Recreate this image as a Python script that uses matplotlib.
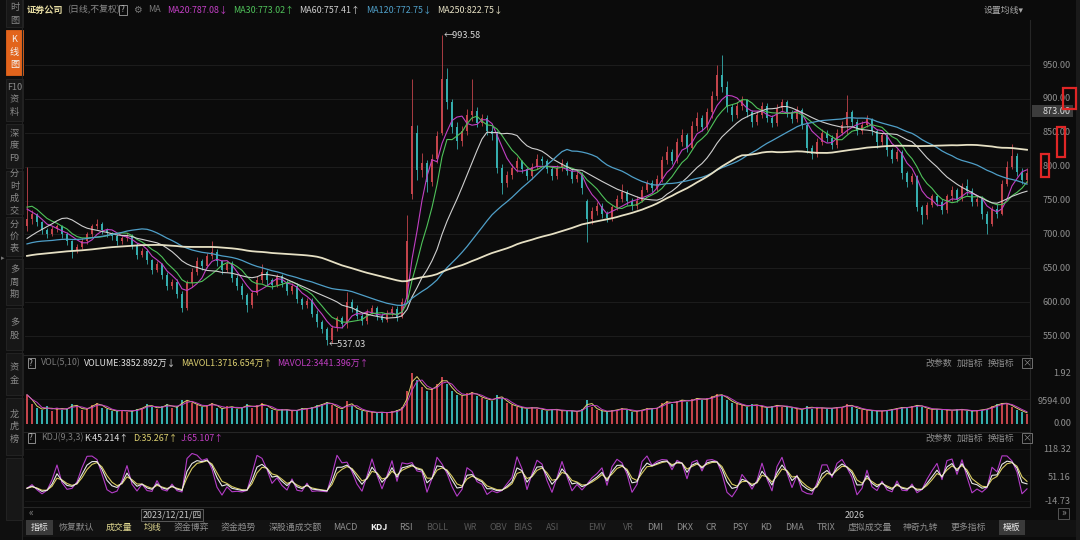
import numpy as np
import pandas as pd
import matplotlib
matplotlib.use("Agg")
import matplotlib.pyplot as plt
from matplotlib.patches import Rectangle

plt.rcParams['font.family'] = ['Noto Sans CJK SC', 'DejaVu Sans']

# ---------------- data (one candle ~ 3.7 trading days) ----------------
# closes before the visible window (only used to warm up the moving averages)
prior_closes = [640, 645, 650, 655, 648, 652, 660, 655, 650, 645, 648, 652, 658, 662, 655, 650, 646, 650,
                655, 660, 652, 648, 645, 650, 655, 648, 644, 650, 656, 660, 654, 650, 648, 652, 656,
                660, 668, 675, 680, 685, 690, 684, 678, 682, 688, 680, 675, 672, 678, 684, 669,
                660, 652, 645, 640, 636, 642, 640, 645,
                680, 720, 755,
                760, 752, 740, 738, 735]
opens = [712, 722, 730, 718, 706, 700, 708, 712, 700, 690, 676, 682, 690, 700, 712, 716, 706, 702,
         697, 690, 694, 698, 684, 670, 676, 662, 648, 656, 640, 624, 630, 612,
         592, 628, 645, 660, 654, 668, 674, 660, 648, 656, 636, 624, 610,
         596, 614, 633, 644, 632, 626,
         638, 628, 616, 624, 604, 596, 602, 583, 570, 560,
         544, 562, 576, 568, 600, 592, 580, 572, 586, 592, 580, 574, 584, 590, 578,
         605, 760, 850, 795, 806, 778, 812, 850, 930, 895, 858, 838, 852, 876, 882, 864, 872, 852, 848, 798,
         776, 788, 798, 808, 796, 786, 800, 812, 808, 796, 786, 798, 806, 794, 782, 788,
         750, 722, 734, 742, 730, 724, 740, 752, 762, 750, 742, 750, 766, 776, 768,
         782, 810, 822, 808, 836, 846, 828, 860, 872, 858, 880, 905, 935,
         918, 888, 876, 890, 898, 880, 866, 876, 890, 872, 864, 886, 895, 880, 870, 884,
         862, 828, 818, 836, 850, 842, 832, 850, 862, 880, 866, 852, 862, 870,
         852, 836, 846, 824, 812, 822, 790, 778, 786, 740,
         728, 744, 756, 748, 736, 756, 766, 752, 772, 764, 748, 752, 730,
         716, 738, 730, 775, 800, 815, 792, 780]
closes = [722, 730, 718, 706, 700, 708, 712, 700, 690, 676, 682, 690, 700, 712, 716, 706, 702, 697,
          690, 694, 698, 684, 670, 676, 662, 648, 656, 640, 624, 630, 612, 592,
          628, 645, 660, 654, 668, 674, 660, 648, 656, 636, 624, 610, 596,
          614, 633, 644, 632, 626, 638,
          628, 616, 624, 604, 596, 602, 583, 570, 560, 544,
          562, 576, 568, 600, 592, 580, 572, 586, 592, 580, 574, 584, 590, 578, 600,
          690, 860, 795, 806, 778, 812, 845, 930, 895, 858, 838, 852, 876, 882, 864, 872, 852, 848, 798, 776,
          788, 798, 808, 796, 786, 800, 812, 808, 796, 786, 798, 806, 794, 782, 788, 768,
          722, 734, 742, 730, 724, 740, 752, 762, 750, 742, 750, 766, 776, 768, 782,
          810, 822, 808, 836, 846, 828, 860, 872, 858, 880, 905, 935, 918,
          888, 876, 890, 898, 880, 866, 876, 890, 872, 864, 886, 895, 880, 870, 884, 862,
          828, 818, 836, 850, 842, 832, 850, 862, 880, 866, 852, 862, 870, 852,
          836, 846, 824, 812, 822, 790, 778, 786, 740, 728,
          744, 756, 748, 736, 756, 766, 752, 772, 764, 748, 752, 730, 716,
          738, 730, 775, 800, 815, 792, 780, 790]
highs = [800, 736, 732, 720, 710, 712, 716, 714, 703, 692, 686, 694, 704, 716, 722, 718, 710, 704,
         700, 698, 702, 700, 688, 680, 678, 664, 660, 658, 644, 634, 634, 616,
         632, 650, 666, 664, 672, 690, 678, 662, 660, 660, 640, 628, 614,
         618, 638, 656, 648, 636, 642,
         642, 632, 628, 628, 608, 606, 606, 588, 574, 564,
         566, 580, 580, 615, 604, 596, 584, 590, 596, 594, 584, 588, 594, 594, 606,
         729, 930, 862, 820, 810, 818, 852, 993.58, 945, 900, 866, 860, 885, 930, 888, 878, 876, 860, 852, 804,
         794, 804, 814, 810, 800, 806, 818, 816, 812, 800, 802, 812, 808, 798, 794, 792,
         752, 740, 748, 746, 734, 744, 758, 775, 766, 754, 756, 772, 780, 780, 788,
         816, 830, 826, 842, 856, 850, 868, 880, 876, 886, 912, 950, 965,
         926, 892, 896, 904, 900, 884, 882, 896, 894, 876, 892, 900, 898, 884, 890, 886,
         866, 832, 842, 856, 854, 846, 856, 868, 906, 884, 870, 868, 876, 872,
         856, 850, 848, 828, 826, 824, 794, 790, 788, 744,
         748, 760, 760, 752, 760, 772, 768, 776, 782, 768, 756, 756, 734,
         742, 745, 780, 808, 833, 820, 798, 798]
lows = [705, 716, 712, 700, 694, 698, 704, 694, 684, 665, 672, 678, 686, 696, 708, 700, 696, 692,
        684, 686, 690, 678, 664, 666, 656, 642, 644, 634, 618, 620, 606, 586,
        588, 622, 640, 648, 650, 664, 654, 642, 644, 630, 618, 604, 586,
        592, 610, 628, 626, 620, 622,
        622, 610, 612, 598, 590, 592, 578, 564, 554, 537.03,
        540, 558, 562, 562, 586, 575, 566, 568, 582, 574, 570, 571, 580, 572, 576,
        603, 752, 780, 785, 763, 772, 806, 846, 885, 850, 826, 830, 846, 868, 858, 860, 846, 840, 790, 760,
        770, 782, 792, 790, 780, 782, 796, 802, 790, 780, 782, 794, 788, 776, 778, 760,
        689, 716, 728, 724, 718, 720, 736, 748, 744, 736, 738, 748, 762, 762, 764,
        778, 804, 804, 806, 830, 822, 826, 852, 852, 854, 872, 898, 910,
        880, 868, 872, 884, 874, 858, 862, 872, 866, 858, 860, 880, 874, 864, 866, 856,
        820, 812, 814, 832, 836, 826, 828, 846, 848, 860, 846, 848, 858, 846,
        828, 832, 816, 806, 808, 782, 770, 774, 734, 715,
        722, 740, 742, 730, 732, 750, 748, 750, 758, 742, 742, 722, 701,
        712, 724, 728, 772, 796, 786, 774, 776]
volumes = [11000, 7500, 6000, 5200, 6800, 5000, 6200, 5400, 5800, 7600, 6400, 5200, 6000, 7200, 8000, 6200, 5600, 5000,
           4800, 5400, 4600, 5000, 5600, 6200, 7400, 6400, 5800, 6800, 7600, 6000, 6600, 9000, 8800, 7800, 7000, 6400, 7200, 8000, 6000, 5600, 6800, 6200,
           5800,
           6400, 7400, 6000, 7000, 7800, 6200, 5400, 5000, 5600, 5200, 4800, 5400, 6000, 5600, 6400, 7000, 7600, 8400, 7000, 6000, 5400, 8600, 6600, 5400, 5000, 4600,
           4400,
           4200, 4600, 4000, 4800, 5200, 6400, 12500, 19188, 16500, 14000, 12500, 13500, 15000, 17500, 15000, 12500, 11000, 10500, 11500, 12000,
           10500, 9800, 9200, 8800, 10800, 9600, 7800, 7000, 6400, 6000, 5800, 6400, 5800,
           5400, 5000, 5800, 5200, 4800, 5200, 4800, 4600, 5600, 9000,
           6400, 5200, 4800, 4600, 5200, 5400, 6000, 5200, 4600, 5000,
           5400, 6000, 5600, 6200, 8000, 8600, 7600, 8800, 9200, 8200,
           9400, 9800, 9000, 9600, 10400, 11200, 10800, 9200, 8000, 7400,
           7000, 6400, 7600, 6800, 6400, 6000, 6800, 7200, 6400, 6600,
           6000, 5600, 5400, 6800, 5800, 6200, 6000, 5800, 6000, 6400,
           6200, 7600, 6400, 5800, 5400, 5200, 5000, 4800, 5000, 5200,
           5600, 6000, 6400, 6000, 6800, 7200, 6400, 5600, 5400, 5800,
           5200, 5400, 5000, 5600, 5400, 5000, 4800, 5200, 5400, 5800,
           6800, 7400, 8000, 7600, 6400, 5400, 4600, 3853]

ma_names = ['MA20', 'MA30', 'MA60', 'MA120', 'MA250']
ma_windows = [5, 8, 16, 32, 67]          # same spans expressed in candles
ma_header_values = ['787.08', '773.02', '757.41', '772.75', '822.75']
ma_arrows = ['↓', '↑', '↑', '↓', '↓']
ma_colors = ['#c23fc4', '#4fc25a', '#cfcfcf', '#4f9fc8', '#e6e0c4']
ma_widths = [0.8, 0.8, 0.8, 0.9, 1.3]
price_ticks = [550, 600, 650, 700, 750, 800, 850, 900, 950]
vol_labels = [('1.92', 373), ('9594.00', 401), ('0.00', 424)]
kdj_labels = [('118.32', 449), ('51.16', 477), ('-14.73', 501)]

# ---------------- style ----------------
W, H = 1080, 540
BG = '#0b0b0b'
UP = '#c2444b'
DN = '#35adad'
GRAY = '#949494'

fig = plt.figure(figsize=(10.8, 5.4), dpi=100, facecolor=BG)
bg = fig.add_axes([0, 0, 1, 1], zorder=0)
bg.set_xlim(0, W); bg.set_ylim(H, 0); bg.axis('off')
over = fig.add_axes([0, 0, 1, 1], zorder=10)
over.set_xlim(0, W); over.set_ylim(H, 0); over.axis('off'); over.patch.set_alpha(0)


def px_axes(x0, y0, x1, y1, z=2):
    a = fig.add_axes([x0 / W, 1 - y1 / H, (x1 - x0) / W, (y1 - y0) / H], zorder=z)
    a.set_facecolor('none')
    for s in a.spines.values():
        s.set_visible(False)
    a.set_xticks([]); a.set_yticks([])
    return a


def T(x, y, s, color=GRAY, size=6.4, ha='left', va='center', axis=None, **kw):
    (axis or over).text(x, y, s, color=color, fontsize=size, ha=ha, va=va, **kw)


def R(x, y, w, h, fc='none', ec='none', lw=0.8, axis=None, z=1):
    (axis or bg).add_patch(Rectangle((x, y), w, h, facecolor=fc, edgecolor=ec, lw=lw, zorder=z))


# ---------------- frame ----------------
R(0, 0, 22, 540, fc='#0f0f0f')
R(1076, 0, 4, 540, fc='#1a1a1a')
for y in (355, 432, 507):
    bg.plot([22, 1030], [y, y], color='#262626', lw=0.8)
bg.plot([1030, 1030], [20, 507], color='#262626', lw=0.8)
bg.plot([22, 22], [0, 540], color='#222222', lw=0.8)

# left tabs
tabs = [(['时', '图'], -12, 27, False), (['K', '线', '图'], 30, 75, True),
        (['F10', '资', '料'], 79, 121, False), (['深', '度', 'F9'], 124, 168, False),
        (['分', '时', '成', '交'], 171, 214, False), (['分', '价', '表'], 217, 256, False),
        (['多', '周', '期'], 259, 305, False), (['多', '股'], 308, 350, False),
        (['资', '金'], 353, 395, False), (['龙', '虎', '榜'], 398, 455, False),
        ([], 458, 520, False)]
for chars, y0, y1, active in tabs:
    R(6, y0, 17, y1 - y0, fc='#e2641c' if active else '#171717',
      ec='#e2641c' if active else '#262626', lw=0.6)
    n = len(chars)
    cy = (y0 + y1) / 2 if y0 > 0 else 14
    for k, ch in enumerate(chars):
        T(14.5, cy + (k - (n - 1) / 2) * 12.5, ch, color='#f4f4f4' if active else '#8a8a8a',
          size=6.6, ha='center')
T(3, 258, '▸', color='#777777', size=5, ha='center')

# ---------------- main price panel ----------------
ax = px_axes(25, 22, 1030, 352)
idx = np.arange(len(closes))
o = np.array(opens, float); c = np.array(closes, float)
h = np.maximum(np.array(highs, float), np.maximum(o, c))
l = np.minimum(np.array(lows, float), np.minimum(o, c))
cols = np.where(c >= o, UP, DN)
YLO, YHI = 526.4, 1013.5
ax.set_xlim(-0.4, len(closes) - 0.4)
ax.set_ylim(YLO, YHI)
for p in price_ticks:
    ax.axhline(p, color='#1d1d1d', lw=0.7, zorder=1)
ax.vlines(idx, l, h, colors=cols, lw=0.6, zorder=3)
ax.bar(idx, np.maximum(np.abs(c - o), 0.9), bottom=np.minimum(o, c), width=0.45,
       color=cols, linewidth=0, zorder=4)
npre = len(prior_closes)
full = pd.Series(list(prior_closes) + list(closes), dtype=float)
for win, col, lw in zip(ma_windows, ma_colors, ma_widths):
    ma = full.rolling(win, min_periods=1).mean().to_numpy()[npre:]
    ax.plot(idx, ma, color=col, lw=lw, zorder=5)
ih = int(np.argmax(h)); il = int(np.argmin(l))
ax.text(ih + 0.3, h[ih], '←%.2f' % h[ih], color='#d8d8d8', fontsize=6.6, va='center', ha='left', zorder=6)
ax.text(il + 0.3, l[il], '←%.2f' % l[il], color='#d8d8d8', fontsize=6.6, va='center', ha='left', zorder=6)


def py(p):
    return 22 + (YHI - p) / (YHI - YLO) * 330


for p in price_ticks:
    T(1071, py(p), '%.2f' % p, ha='right', size=6.6, color='#8e8e8e')
R(1032, 105, 41, 12, fc='#3c3c3c', axis=over, z=2)
T(1071, 111, '873.00', ha='right', size=6.6, color='#dcdcdc')

# header
T(27, 10, '证券公司', color='#e3d9a0', size=6.6, weight='bold')
T(67, 10, '(日线,不复权)', color='#8a8a8a')
R(119, 5, 8, 10, ec='#8a8a8a', lw=0.7, axis=over)
T(123, 10, '?', color='#bdbdbd', size=5.8, ha='center')
T(137, 10, '⚙', color='#7a7a7a', size=7, ha='center')
T(148, 10, 'MA', color='#7a7a7a')
for xx, name, val, arr, col in zip([167, 233, 299, 366, 437], ma_names, ma_header_values, ma_arrows, ma_colors):
    T(xx, 10, '%s:%s%s' % (name, val, arr), color=col)
T(984, 10, '设置均线▾', color='#a8a8a8')

# ---------------- volume panel ----------------
axv = px_axes(25, 368, 1030, 430)
v = np.array(volumes, float)
axv.set_xlim(-0.4, len(closes) - 0.4)
axv.set_ylim(-2257, 21070)
axv.axhline(9594, color='#1a1a1a', lw=0.6)
axv.bar(idx, v, width=0.55, color=cols, linewidth=0, zorder=3)
vs = pd.Series(v)
axv.plot(idx, vs.rolling(2, min_periods=1).mean(), color='#ddd070', lw=0.7, zorder=4)
axv.plot(idx, vs.rolling(3, min_periods=1).mean(), color='#c23fc4', lw=0.7, zorder=4)
for s, y in vol_labels:
    T(1071, y, s, ha='right', size=6.6, color='#8e8e8e')

for yy in (363, 438):
    R(27.5, yy - 5, 7, 10, ec='#8a8a8a', lw=0.7, axis=over)
    T(31, yy, '?', color='#bdbdbd', size=5.8, ha='center')
    T(925, yy, '改参数', color='#8e8e8e')
    T(957, yy, '加指标', color='#8e8e8e')
    T(988, yy, '换指标', color='#8e8e8e')
    R(1022, yy - 5, 10, 10, ec='#707070', lw=0.7, axis=over)
    T(1027, yy, '×', color='#909090', size=6.4, ha='center')
T(41, 363, 'VOL(5,10)', color='#7c7c7c')
T(84, 363, 'VOLUME:3852.892万↓', color='#e4e4e4')
T(181, 363, 'MAVOL1:3716.654万↑', color='#ddd070')
T(277, 363, 'MAVOL2:3441.396万↑', color='#c23fc4')

# ---------------- KDJ panel ----------------
axk = px_axes(25, 445, 1030, 506)
cs = pd.Series(c)
llv = pd.Series(l).rolling(4, min_periods=1).min()
hhv = pd.Series(h).rolling(4, min_periods=1).max()
rsv = ((cs - llv) / (hhv - llv).replace(0, np.nan) * 100).fillna(50)
K = rsv.ewm(alpha=0.65, adjust=False).mean()
D = K.ewm(alpha=0.65, adjust=False).mean()
J = 3 * K - 2 * D
axk.set_xlim(-0.4, len(closes) - 0.4)
axk.set_ylim(-27.5, 128.6)
for lv in (118.32, 51.16, -14.73):
    axk.axhline(lv, color='#181818', lw=0.6)
axk.plot(idx, J, color='#b43cc8', lw=0.8, zorder=3)
axk.plot(idx, D, color='#d8cc60', lw=0.8, zorder=4)
axk.plot(idx, K, color='#e8e8e8', lw=0.8, zorder=5)
for s, y in kdj_labels:
    T(1071, y, s, ha='right', size=6.6, color='#8e8e8e')
T(41, 438, 'KDJ(9,3,3)', color='#7c7c7c')
T(84, 438, 'K:45.214↑', color='#e4e4e4')
T(133, 438, 'D:35.267↑', color='#ddd070')
T(181, 438, 'J:65.107↑', color='#c23fc4')

# ---------------- x axis row ----------------
T(31, 513, '«', color='#8a8a8a', size=7, ha='center')
R(141, 509, 62, 12, fc='#121212', ec='#5a5a5a', lw=0.7, axis=over)
T(172, 515, '2023/12/21/四', color='#c8c8c8', ha='center')
T(855, 515, '2026', color='#c8c8c8', ha='center')
R(1058, 508, 11, 11, ec='#555555', lw=0.7, axis=over)
T(1063.5, 513, '»', color='#9a9a9a', size=7, ha='center')

# ---------------- bottom toolbar ----------------
R(22, 520, 1054, 17, fc='#121212')
R(26, 520, 27, 15, fc='#3a3a3a')
R(999, 520, 26, 15, fc='#3a3a3a')
toolbar = [('指标', 40, '#e8e8e8'), ('恢复默认', 76, '#8e8e8e'), ('成交量', 119, '#e0d890'),
           ('均线', 153, '#e0d890'), ('资金博弈', 191, '#8e8e8e'), ('资金趋势', 238, '#8e8e8e'),
           ('深股通成交额', 295, '#8e8e8e'), ('MACD', 345, '#8e8e8e'), ('KDJ', 379, '#f0f0f0'),
           ('RSI', 406, '#8e8e8e'), ('DMI', 655, '#8e8e8e'), ('DKX', 685, '#8e8e8e'),
           ('CR', 711, '#8e8e8e'), ('PSY', 740, '#8e8e8e'), ('KD', 766, '#8e8e8e'),
           ('DMA', 795, '#8e8e8e'), ('TRIX', 826, '#8e8e8e'), ('虚拟成交量', 870, '#8e8e8e'),
           ('神奇九转', 921, '#8e8e8e'), ('更多指标', 968, '#8e8e8e'), ('模板', 1012, '#e8e8e8')]
for s, xx, col in toolbar:
    T(xx, 527.5, s, color=col, ha='center', weight='bold' if s == 'KDJ' else 'normal')
for s, xx in [('BOLL', 437), ('WR', 470), ('OBV', 498), ('BIAS', 523), ('ASI', 553), ('EMV', 597), ('VR', 628)]:
    T(xx, 527.5, s, color='#d8d8d8', ha='center', alpha=0.35)

# red annotation boxes
for x0, y0, w, hh in [(1040.5, 154, 8.5, 23), (1057, 127, 7.5, 30), (1063, 88, 13, 21)]:
    R(x0, y0, w, hh, ec='#e02626', lw=1.6, axis=over, z=5)

fig.savefig('out.png', dpi=100, facecolor=BG)
